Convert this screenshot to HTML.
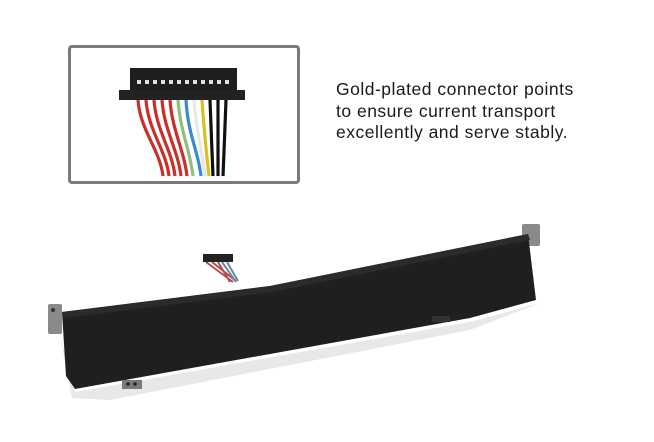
<!DOCTYPE html>
<html><head><style>
body{margin:0;width:654px;height:442px;background:#fff;position:relative;overflow:hidden;font-family:"Liberation Sans",sans-serif}
.box{position:absolute;left:68px;top:45px;width:226px;height:133px;border:3px solid #7a7a7a;border-radius:4px;background:#fff}
.t{position:absolute;left:336px;top:79px;font-size:17.5px;line-height:21.5px;color:#1a1a1a;letter-spacing:0.5px;white-space:nowrap}
</style></head><body>
<div class="box"></div>
<svg width="654" height="442" style="position:absolute;left:0;top:0">
<g>
<rect x="130" y="68" width="107" height="30" fill="#1e1e1e"/>
<rect x="119" y="90" width="126" height="10" fill="#222"/>
<g fill="#ddd">
<rect x="137" y="80" width="4" height="4"/><rect x="145" y="80" width="4" height="4"/><rect x="153" y="80" width="4" height="4"/><rect x="161" y="80" width="4" height="4"/><rect x="169" y="80" width="4" height="4"/><rect x="177" y="80" width="4" height="4"/><rect x="185" y="80" width="4" height="4"/><rect x="193" y="80" width="4" height="4"/><rect x="201" y="80" width="4" height="4"/><rect x="209" y="80" width="4" height="4"/><rect x="217" y="80" width="4" height="4"/><rect x="225" y="80" width="4" height="4"/>
</g>
<g fill="none" stroke-width="3.2">
<path d="M138 100 C140 130 160 150 163 176" stroke="#c8302c"/>
<path d="M146 100 C148 130 166 150 169 176" stroke="#c8302c"/>
<path d="M154 100 C156 130 172 150 175 176" stroke="#c8302c"/>
<path d="M162 100 C164 130 178 150 181 176" stroke="#c8302c"/>
<path d="M170 100 C172 130 184 150 187 176" stroke="#c8302c"/>
<path d="M178 100 C180 130 190 150 193 176" stroke="#8fbf80"/>
<path d="M186 100 C188 135 198 150 201 176" stroke="#3a8ad0"/>
<path d="M194 100 C196 130 202 150 205 176" stroke="#e8e8e0"/>
<path d="M202 100 C204 130 206 150 209 176" stroke="#d8c020"/>
<path d="M210 100 C211 130 212 150 213 176" stroke="#111"/>
<path d="M218 100 C218 130 218 150 218 176" stroke="#111"/>
<path d="M226 100 C225 130 224 150 223 176" stroke="#111"/>
</g>
</g>
<polygon points="60,335 72,398 110,400 470,330 540,303 470,322 75,392" fill="#e2e2e2" opacity="0.8"/>
<rect x="48" y="304" width="14" height="30" fill="#8a8a8a" rx="2"/>
<circle cx="53" cy="310" r="2" fill="#333"/>
<rect x="522" y="224" width="18" height="22" fill="#8a8a8a" rx="2"/>
<path d="M206 262 L233 282 M212 262 L236 281 M218 262 L230 282" stroke="#b05050" stroke-width="2"/>
<path d="M222 262 L236 282 M227 262 L238 281" stroke="#6a8aa0" stroke-width="2"/>
<rect x="203" y="254" width="30" height="8" fill="#222"/>
<polygon points="62,312 270,286 528,234 536,300 470,318 75,389 66,376" fill="#1f1f1f"/>
<polygon points="62,312 270,286 528,234 530,240 272,292 64,318" fill="#2b2b2b"/>
<rect x="122" y="380" width="20" height="9" fill="#7a7a7a"/>
<circle cx="128" cy="384" r="1.8" fill="#222"/><circle cx="135" cy="384" r="1.8" fill="#222"/>
<rect x="432" y="316" width="18" height="6" fill="#333"/>
</svg>
<div class="t">Gold-plated connector points<br>to ensure current transport<br>excellently and serve stably.</div>
</body></html>
